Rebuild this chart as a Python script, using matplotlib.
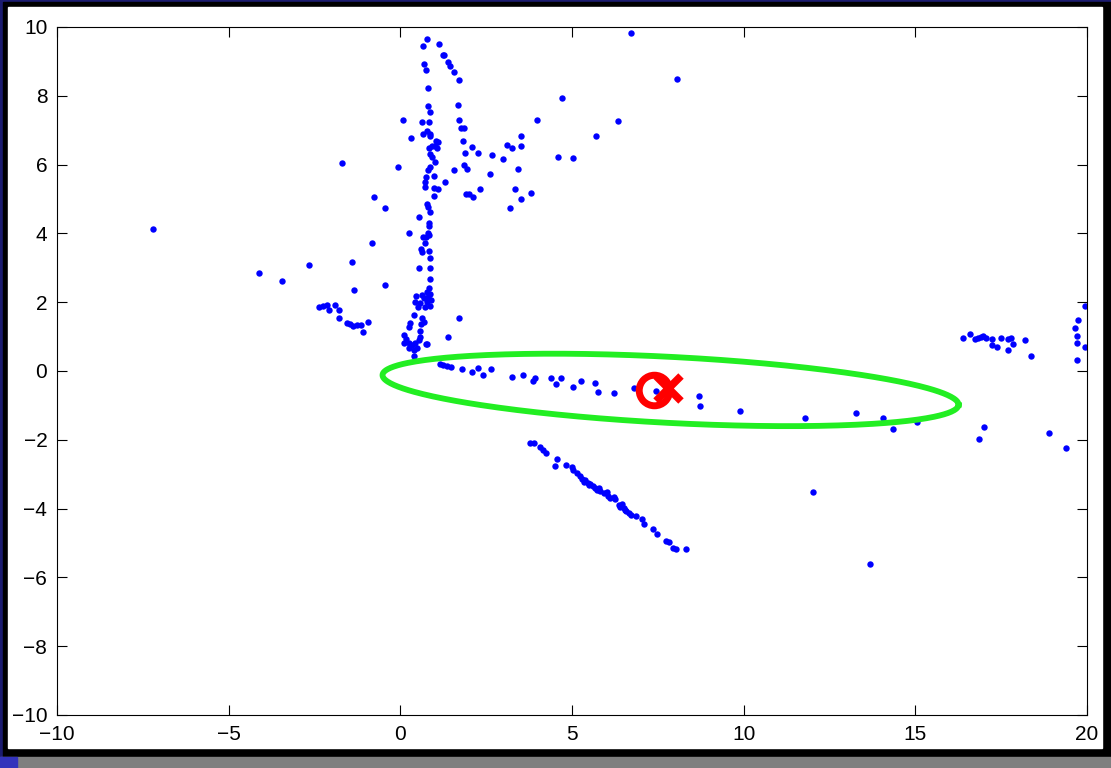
import numpy as np
import matplotlib.pyplot as plt
from matplotlib.patches import Rectangle

# scattered points left of the wall
left_x = [-7.20, -4.13, -3.46, -2.65, -1.69, -0.06, -0.77, -0.46, 0.24, -0.82,
          -1.42, -1.36, -0.46, 1.71, 1.39, 0.75,
          -2.38, -2.25, -2.14, -2.07, -1.91, -1.80, -1.79, -1.54, -1.46, -1.38,
          -1.26, -1.14, -1.10, -0.94]
left_y = [4.13, 2.86, 2.62, 3.08, 6.04, 5.93, 5.07, 4.73, 4.02, 3.72,
          3.17, 2.36, 2.49, 1.54, 0.99, 0.78,
          1.87, 1.89, 1.91, 1.77, 1.92, 1.77, 1.53, 1.39, 1.38, 1.32,
          1.35, 1.33, 1.12, 1.42]

# the near vertical wall around x = 1
wall_x = [0.78, 0.65, 1.12, 1.23, 1.28, 0.68, 0.75, 1.39, 1.44, 1.55, 1.71, 0.80,
          1.68, 0.80, 0.85, 1.72, 0.09, 0.62, 0.84, 1.78, 1.84, 0.78, 0.65, 0.87,
          0.85, 1.04, 1.09, 1.83, 0.92, 1.02, 0.84, 1.07, 0.30, 0.87, 0.91, 1.02,
          0.85, 0.81, 0.98, 0.76, 0.73, 0.73, 0.99, 1.09, 0.98, 0.77, 0.81, 0.86,
          0.54, 0.84, 0.84, 0.81, 0.84, 0.65, 0.74, 0.71, 0.59, 0.64, 0.84, 0.87,
          0.53, 0.87, 0.85, 0.84, 0.78, 0.87, 0.82, 0.90, 0.78, 0.87, 0.68, 0.63,
          0.47, 0.44, 0.56, 0.51, 0.73, 0.39, 0.63, 0.68, 0.60, 0.29, 0.24, 0.58,
          0.12, 0.17, 0.10, 0.24, 0.34, 0.44, 0.53, 0.58, 0.49, 0.39, 0.24, 0.77,
          0.39]
wall_y = [9.65, 9.45, 9.50, 9.20, 9.18, 8.92, 8.75, 8.97, 8.88, 8.68, 8.45, 8.23,
          7.72, 7.71, 7.53, 7.31, 7.29, 7.25, 7.24, 7.06, 7.06, 6.99, 6.90, 6.90,
          6.83, 6.69, 6.67, 6.69, 6.55, 6.54, 6.47, 6.47, 6.76, 6.30, 6.23, 6.08,
          5.94, 5.84, 5.67, 5.65, 5.49, 5.34, 5.33, 5.29, 5.10, 4.86, 4.76, 4.63,
          4.47, 4.31, 4.22, 4.02, 3.95, 3.89, 3.89, 3.73, 3.54, 3.47, 3.48, 3.28,
          2.99, 2.99, 2.68, 2.40, 2.31, 2.24, 2.14, 2.06, 2.01, 1.89, 2.11, 2.20,
          2.18, 2.01, 1.97, 1.85, 1.87, 1.63, 1.53, 1.43, 1.37, 1.40, 1.29, 1.17,
          1.05, 0.92, 0.82, 0.80, 0.76, 0.82, 0.90, 1.00, 0.66, 0.61, 0.66, 0.78,
          0.44]

# scattered points to the upper right
upper_x = [2.09, 1.87, 2.26, 2.66, 1.86, 1.93, 1.56, 1.29, 2.61, 2.33, 1.90, 1.99,
           2.12, 6.73, 8.06, 4.70, 3.99, 6.35, 5.71, 4.58, 5.02, 3.52, 3.52, 3.10,
           3.25, 2.98, 3.43, 3.34, 3.80, 3.52, 3.20]
upper_y = [6.51, 6.35, 6.35, 6.28, 5.98, 5.86, 5.83, 5.49, 5.72, 5.30, 5.15, 5.15,
           5.07, 9.83, 8.48, 7.93, 7.29, 7.28, 6.84, 6.23, 6.19, 6.82, 6.54, 6.57,
           6.49, 6.17, 5.88, 5.29, 5.17, 4.99, 4.73]

# points along the road inside the ellipse
mid_x = [1.15, 1.24, 1.36, 1.49, 1.80, 2.08, 2.26, 2.41, 2.65, 3.25, 3.56, 3.86,
         3.92, 4.39, 4.53, 4.67, 5.02, 5.27, 5.68, 5.75, 6.23, 6.80, 7.44, 8.70,
         8.72, 9.90, 11.80, 13.27, 14.07, 14.36, 15.06]
mid_y = [0.20, 0.18, 0.15, 0.13, 0.06, -0.03, 0.09, -0.11, 0.05, -0.17, -0.13, -0.29,
         -0.21, -0.19, -0.38, -0.21, -0.47, -0.28, -0.34, -0.61, -0.65, -0.48, -0.57, -0.72,
         -1.01, -1.15, -1.37, -1.23, -1.38, -1.69, -1.47]

# diagonal line below
diag_x = [3.77, 3.88, 4.06, 4.16, 4.25, 4.56, 4.50, 4.83, 5.00, 5.02, 5.15, 5.24,
          5.29, 5.39, 5.46, 5.53, 5.61, 5.68, 5.78, 5.83, 5.92, 6.02, 6.04, 6.12,
          6.26, 6.36, 6.46, 6.50, 6.58, 6.65, 6.72, 6.87, 7.04, 7.09, 7.35, 7.48,
          7.74, 7.82, 7.94, 8.03, 8.33, 5.34, 5.49, 5.73, 6.21, 6.41, 6.55]
diag_y = [-2.10, -2.10, -2.22, -2.30, -2.37, -2.57, -2.75, -2.73, -2.78, -2.88, -2.96, -3.05,
          -3.15, -3.17, -3.25, -3.28, -3.34, -3.39, -3.41, -3.49, -3.56, -3.51, -3.63, -3.70,
          -3.73, -3.90, -3.87, -3.99, -4.06, -4.14, -4.19, -4.22, -4.30, -4.46, -4.60, -4.75,
          -4.94, -4.96, -5.14, -5.18, -5.18, -3.22, -3.31, -3.46, -3.65, -3.94, -4.04]

# far right points and outliers
right_x = [16.38, 16.59, 16.75, 16.82, 16.90, 16.97, 17.07, 17.24, 17.24, 17.39,
           17.50, 17.70, 17.78, 17.84, 17.71, 18.18, 18.36, 19.95, 19.75, 19.65,
           19.70, 19.70, 19.95, 19.71, 17.00, 16.85, 18.88, 19.39, 12.03, 13.68]
right_y = [0.96, 1.07, 0.92, 0.95, 0.98, 1.02, 0.97, 0.94, 0.76, 0.71,
           0.97, 0.93, 0.97, 0.78, 0.61, 0.89, 0.44, 1.90, 1.49, 1.26,
           1.03, 0.81, 0.69, 0.33, -1.62, -1.97, -1.81, -2.24, -3.51, -5.60]

# uncertainty ellipse and estimate
ell_center = (7.87, -0.55)
ell_axes = (8.40, 0.96)
ell_angle = -2.97
est_circle = (7.40, -0.55)
est_cross = (7.81, -0.49)

fig = plt.figure(figsize=(11.11, 7.68), dpi=100, facecolor='black')
plt.rcParams['font.family'] = ['Liberation Sans', 'DejaVu Sans']

# frame decoration
fig.add_artist(Rectangle((0, 0), 1, 1, transform=fig.transFigure, color='#1c1c70', zorder=-3))
fig.add_artist(Rectangle((3/1111, 11/768), 1108/1111, 755/768, transform=fig.transFigure,
                         color='black', zorder=-2))
fig.add_artist(Rectangle((8/1111, 20/768), 1094/1111, 741/768, transform=fig.transFigure,
                         color='white', zorder=-1))
fig.add_artist(Rectangle((0, 0), 1, 11/768, transform=fig.transFigure, color='#7f7f7f', zorder=-1))
fig.add_artist(Rectangle((0, 0), 17/1111, 11/768, transform=fig.transFigure, color='#3333bb', zorder=0))

ax = fig.add_axes([57/1111, 1 - 715/768, 1030/1111, 688/768])
ax.set_facecolor('white')

dot = dict(ls='none', marker='o', ms=4.6, mec='none', color='#0000ff')
for xs, ys in [(left_x, left_y), (wall_x, wall_y), (upper_x, upper_y),
               (mid_x, mid_y), (diag_x, diag_y), (right_x, right_y)]:
    ax.plot(xs, ys, **dot)

t = np.linspace(0, 2 * np.pi, 400)
th = np.deg2rad(ell_angle)
ex = ell_axes[0] * np.cos(t)
ey = ell_axes[1] * np.sin(t)
ax.plot(ell_center[0] + ex * np.cos(th) - ey * np.sin(th),
        ell_center[1] + ex * np.sin(th) + ey * np.cos(th),
        color='#22ee22', lw=4.2)

ax.plot(*est_circle, marker='o', ms=22, mfc='none', mec='#ff0000', mew=5)
ax.plot(*est_cross, marker='x', ms=18, mec='#ff0000', mew=5.5)

ax.set_xlim(-10, 20)
ax.set_ylim(-10, 10)
ax.set_xticks(np.arange(-10, 21, 5))
ax.set_yticks(np.arange(-10, 11, 2))
ax.tick_params(direction='in', length=7, width=0.8, top=True, right=True,
               labelsize=15, pad=7)
for s in ax.spines.values():
    s.set_linewidth(0.8)

fig.savefig('out.png', dpi=100, facecolor=fig.get_facecolor())
